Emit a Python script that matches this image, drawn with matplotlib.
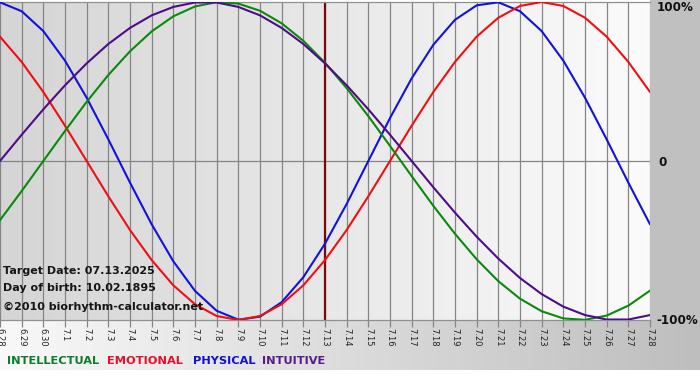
import numpy as np
import matplotlib
matplotlib.use("Agg")
import matplotlib.pyplot as plt
from matplotlib.patches import Rectangle

# ---- data ----
dates = ["6.28", "6.29", "6.30", "7.1", "7.2", "7.3", "7.4", "7.5", "7.6", "7.7",
         "7.8", "7.9", "7.10", "7.11", "7.12", "7.13", "7.14", "7.15", "7.16", "7.17",
         "7.18", "7.19", "7.20", "7.21", "7.22", "7.23", "7.24", "7.25", "7.26", "7.27", "7.28"]

physical = [0.998, 0.942, 0.817, 0.631, 0.398, 0.136, -0.136, -0.398, -0.631, -0.817,
            -0.942, -0.998, -0.979, -0.888, -0.731, -0.520, -0.270, 0.0, 0.270, 0.520,
            0.731, 0.888, 0.979, 0.998, 0.942, 0.817, 0.631, 0.398, 0.136, -0.136, -0.398]

emotional = [0.782, 0.623, 0.434, 0.222, 0.0, -0.222, -0.434, -0.623, -0.782, -0.901,
             -0.975, -1.0, -0.975, -0.901, -0.782, -0.623, -0.434, -0.222, 0.0, 0.222,
             0.434, 0.623, 0.782, 0.901, 0.975, 1.0, 0.975, 0.901, 0.782, 0.623, 0.434]

intellectual = [-0.372, -0.189, 0.0, 0.189, 0.372, 0.541, 0.690, 0.815, 0.910, 0.972,
                0.999, 0.990, 0.945, 0.866, 0.756, 0.618, 0.458, 0.282, 0.095, -0.095,
                -0.282, -0.458, -0.618, -0.756, -0.866, -0.945, -0.990, -0.999, -0.972, -0.910, -0.815]

intuitive = [0.0, 0.165, 0.325, 0.476, 0.614, 0.736, 0.837, 0.916, 0.969, 0.997,
             0.997, 0.969, 0.916, 0.837, 0.736, 0.614, 0.476, 0.325, 0.165, 0.0,
             -0.165, -0.325, -0.476, -0.614, -0.736, -0.837, -0.916, -0.969, -0.997, -0.997, -0.969]

target_label = "7.13"
y_labels = ["100%", "0", "-100%"]
y_label_vals = [1, 0, -1]
legend_names = ["INTELLECTUAL", "EMOTIONAL", "PHYSICAL", "INTUITIVE"]
info_lines = ["Target Date: 07.13.2025", "Day of birth: 10.02.1895", "\u00a92010 biorhythm-calculator.net"]

# ---- styling ----
W, H, DPI = 700, 380, 100
line_colors = {"INTELLECTUAL": "#0a8a0a", "EMOTIONAL": "#ee1010",
               "PHYSICAL": "#1212dd", "INTUITIVE": "#4e0c8a"}
legend_colors = {"INTELLECTUAL": "#0b7d2a", "EMOTIONAL": "#e8102a",
                 "PHYSICAL": "#1010d8", "INTUITIVE": "#5a1a8a"}

fig = plt.figure(figsize=(W / DPI, H / DPI), dpi=DPI, facecolor="white")

# background layer in pixel coordinates
bg = fig.add_axes([0, 0, 1, 1], zorder=-10)
bg.set_xlim(0, W)
bg.set_ylim(H, 0)
bg.axis("off")
grad = np.linspace(0.975, 0.745, 256).reshape(1, -1)
bg.imshow(np.dstack([grad, grad, grad]), extent=(0, W, 370, 320), aspect="auto",
          interpolation="bilinear")
bg.add_patch(Rectangle((650, 0), 50, 320, color="#c0c0c0", lw=0))
bg.set_xlim(0, W)
bg.set_ylim(H, 0)

# main plot area
plot_left, plot_right = 0, 650
plot_top, plot_bottom = 2, 320
ax = fig.add_axes([plot_left / W, 1 - plot_bottom / H,
                   (plot_right - plot_left) / W, (plot_bottom - plot_top) / H])
x = np.arange(len(dates))
ax.set_xlim(0, len(dates) - 1)
ax.set_ylim(-1, 1)

pg = np.linspace(0.835, 0.985, 256).reshape(1, -1)
ax.imshow(np.dstack([pg, pg, pg]), extent=(0, len(dates) - 1, -1, 1), aspect="auto",
          interpolation="bilinear", zorder=0)

for xi in x:
    ax.axvline(xi, color="#858585", lw=0.9, zorder=1)
ax.axhline(0, color="#858585", lw=0.9, zorder=1)

ax.axvline(dates.index(target_label), color="#7a0a0a", lw=1.6, zorder=2)

series = {"INTELLECTUAL": intellectual, "EMOTIONAL": emotional,
          "PHYSICAL": physical, "INTUITIVE": intuitive}
for name in ["PHYSICAL", "EMOTIONAL", "INTELLECTUAL", "INTUITIVE"]:
    ax.plot(x, series[name], color=line_colors[name], lw=1.5, zorder=3,
            solid_capstyle="round", solid_joinstyle="round", clip_on=True)

ax.set_xticks(x)
ax.set_xticklabels(dates, rotation=-90, fontsize=6, color="#202020")
ax.tick_params(axis="x", length=5, width=0.9, color="#858585", pad=1)
ax.set_yticks([])
for s in ["left", "right"]:
    ax.spines[s].set_visible(False)
for s in ["top", "bottom"]:
    ax.spines[s].set_color("#909090")
    ax.spines[s].set_linewidth(0.9)

trans = ax.get_yaxis_transform()
y_offsets = [0.965, -0.01, -1.005]
for lab, yv, yo in zip(y_labels, y_label_vals, y_offsets):
    xpos = 1.01 if lab != "0" else 1.013
    ax.text(xpos, yo, lab, transform=trans, ha="left", va="center",
            fontsize=8.6, fontweight="bold", color="#101010", clip_on=False)

# info text (bottom left inside plot)
for txt, py in zip(info_lines, [271, 288, 307]):
    fig.text(3 / W, 1 - py / H, txt, ha="left", va="center", fontsize=8,
             fontweight="bold", color="#151515")

# legend row
leg_x = [7, 107, 193, 262]
for name, px in zip(legend_names, leg_x):
    fig.text(px / W, 1 - 361 / H, name, ha="left", va="center", fontsize=8.2,
             fontweight="bold", color=legend_colors[name])

fig.savefig("out.png", dpi=DPI, facecolor="white")
